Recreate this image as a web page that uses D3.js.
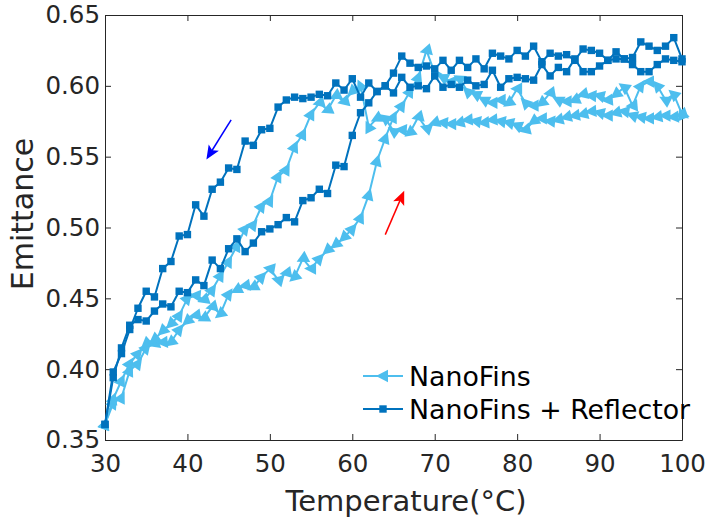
<!DOCTYPE html>
<html>
<head>
<meta charset="utf-8">
<script src="https://cdn.jsdelivr.net/npm/d3@7"></script>
<style>
    body { margin: 0; background: #fff; }
    svg { display: block; font-family: 'DejaVu Sans', sans-serif; }
</style>
</head>
<body>
<div id="chart"></div>
<script>
// 温度 (°C)
const temps = [30, 31, 32, 33, 34, 35, 36, 37, 38, 39,
    40, 41, 42, 43, 44, 45, 46, 47, 48, 49,
    50, 51, 52, 53, 54, 55, 56, 57, 58, 59,
    60, 61, 62, 63, 64, 65, 66, 67, 68, 69,
    70, 71, 72, 73, 74, 75, 76, 77, 78, 79,
    80, 81, 82, 83, 84, 85, 86, 87, 88, 89,
    90, 91, 92, 93, 94, 95, 96, 97, 98, 99,
    100];

// NanoFins 升温
const nanoFinsHeat = [0.361, 0.376, 0.380, 0.399, 0.404, 0.415, 0.418, 0.419, 0.419, 0.428,
    0.434, 0.438, 0.436, 0.444, 0.439, 0.453, 0.456, 0.459, 0.458, 0.465,
    0.471, 0.463, 0.468, 0.465, 0.478, 0.471, 0.478, 0.484, 0.488, 0.493,
    0.499, 0.507, 0.523, 0.547, 0.563, 0.578, 0.586, 0.596, 0.606, 0.625,
    0.609, 0.606, 0.603, 0.605, 0.596, 0.594, 0.590, 0.588, 0.590, 0.588,
    0.598, 0.588, 0.586, 0.588, 0.595, 0.590, 0.589, 0.590, 0.594, 0.593,
    0.593, 0.590, 0.594, 0.599, 0.586, 0.600, 0.603, 0.600, 0.590, 0.594,
    0.580];

// NanoFins 降温
const nanoFinsCool = [0.361, 0.379, 0.392, 0.404, 0.411, 0.418, 0.421, 0.427, 0.432, 0.438,
    0.450, 0.452, 0.449, 0.456, 0.466, 0.476, 0.487, 0.499, 0.502, 0.515,
    0.519, 0.536, 0.541, 0.557, 0.566, 0.580, 0.588, 0.583, 0.593, 0.589,
    0.596, 0.600, 0.571, 0.577, 0.577, 0.568, 0.569, 0.567, 0.578, 0.570,
    0.574, 0.574, 0.573, 0.574, 0.576, 0.575, 0.574, 0.576, 0.575, 0.574,
    0.572, 0.569, 0.575, 0.577, 0.575, 0.576, 0.578, 0.579, 0.580, 0.582,
    0.581, 0.579, 0.581, 0.582, 0.579, 0.578, 0.577, 0.578, 0.579, 0.578,
    0.580];

// NanoFins + Reflector 升温
const reflectorHeat = [0.361, 0.394, 0.415, 0.431, 0.435, 0.434, 0.441, 0.446, 0.444, 0.455,
    0.454, 0.463, 0.459, 0.477, 0.471, 0.485, 0.492, 0.483, 0.489, 0.497,
    0.499, 0.502, 0.507, 0.504, 0.519, 0.521, 0.527, 0.524, 0.544, 0.543,
    0.565, 0.581, 0.588, 0.596, 0.600, 0.609, 0.621, 0.616, 0.613, 0.614,
    0.612, 0.618, 0.611, 0.618, 0.613, 0.619, 0.612, 0.623, 0.621, 0.619,
    0.625, 0.621, 0.628, 0.617, 0.623, 0.621, 0.622, 0.618, 0.626, 0.625,
    0.623, 0.618, 0.624, 0.619, 0.620, 0.631, 0.628, 0.625, 0.628, 0.634,
    0.619];

// NanoFins + Reflector 降温
const reflectorCool = [0.361, 0.398, 0.411, 0.428, 0.443, 0.455, 0.451, 0.471, 0.476, 0.494,
    0.495, 0.516, 0.508, 0.527, 0.532, 0.542, 0.541, 0.561, 0.558, 0.569,
    0.570, 0.585, 0.590, 0.592, 0.591, 0.592, 0.594, 0.593, 0.602, 0.597,
    0.605, 0.592, 0.602, 0.596, 0.600, 0.595, 0.606, 0.599, 0.600, 0.598,
    0.607, 0.599, 0.601, 0.599, 0.604, 0.600, 0.601, 0.611, 0.599, 0.605,
    0.606, 0.605, 0.604, 0.615, 0.607, 0.613, 0.610, 0.619, 0.610, 0.610,
    0.614, 0.618, 0.619, 0.619, 0.615, 0.610, 0.610, 0.615, 0.619, 0.618,
    0.617];

const xTicks = [30, 40, 50, 60, 70, 80, 90, 100];
const yTicks = [0.35, 0.40, 0.45, 0.50, 0.55, 0.60, 0.65];
const legendLabels = ['NanoFins', 'NanoFins + Reflector'];

// 箭头 (起点 -> 终点, 数据坐标)
const arrowFrom = [[45.3, 0.576], [64.0, 0.495]];
const arrowTo = [[42.3, 0.548], [66.3, 0.526]];
const arrowColors = ['#0000ff', '#ff0000'];

const LIGHT = '#4DBEEE';
const DARK = '#0072BD';
const AXIS = '#262626';

const svg = d3.select('#chart')
    .append('svg')
    .attr('width', 712)
    .attr('height', 523);

const x = d3.scaleLinear().domain([30, 100]).range([105, 682]);
const y = d3.scaleLinear().domain([0.35, 0.65]).range([440, 15]);

// 坐标轴 (四边框, 刻度朝内)
function styleAxis(g) {
    g.selectAll('path, line').attr('stroke', AXIS).attr('stroke-width', 1);
    g.selectAll('text').attr('fill', AXIS).style('font-size', '24.5px')
        .style('font-family', "'DejaVu Sans', sans-serif");
}

svg.append('g')
    .attr('transform', 'translate(0,440)')
    .call(d3.axisBottom(x).tickValues(xTicks).tickSize(-6).tickSizeOuter(0).tickPadding(15))
    .call(styleAxis);

svg.append('g')
    .attr('transform', 'translate(0,15)')
    .call(d3.axisTop(x).tickValues(xTicks).tickSize(-6).tickSizeOuter(0).tickFormat(''))
    .call(styleAxis);

svg.append('g')
    .attr('transform', 'translate(105,0)')
    .call(d3.axisLeft(y).tickValues(yTicks).tickSize(-6).tickSizeOuter(0).tickPadding(5)
        .tickFormat(d3.format('.2f')))
    .call(styleAxis);

svg.append('g')
    .attr('transform', 'translate(682,0)')
    .call(d3.axisRight(y).tickValues(yTicks).tickSize(-6).tickSizeOuter(0).tickFormat(''))
    .call(styleAxis);

// 轴标题
svg.append('text')
    .attr('x', 406)
    .attr('y', 511)
    .attr('text-anchor', 'middle')
    .attr('fill', AXIS)
    .style('font-size', '29px')
    .text('Temperature(°C)');

svg.append('text')
    .attr('transform', 'translate(33,214) rotate(-90)')
    .attr('text-anchor', 'middle')
    .attr('fill', AXIS)
    .style('font-size', '30px')
    .text('Emittance');

const triPath = 'M7,0L-5,-6.2L-5,6.2Z';

// 三角形方向沿曲线: 陡处朝上, 平处朝左
function markerAngle(pts, i) {
    const a = pts[Math.max(i - 1, 0)];
    const b = pts[Math.min(i + 1, pts.length - 1)];
    let dx = b[0] - a[0], dy = b[1] - a[1];
    if (Math.abs(dy) > Math.abs(dx)) {
        if (dy > 0) { dx = -dx; dy = -dy; }
    } else if (dx > 0) {
        dx = -dx; dy = -dy;
    }
    return Math.atan2(dy, dx) * 180 / Math.PI;
}

function drawSeries(values, color, marker) {
    const pts = values.map((v, i) => [x(temps[i]), y(v)]);
    const g = svg.append('g');
    g.append('path')
        .attr('d', d3.line()(pts))
        .attr('fill', 'none')
        .attr('stroke', color)
        .attr('stroke-width', 2)
        .attr('stroke-linejoin', 'round');

    if (marker === 'tri') {
        g.selectAll('path.m')
            .data(pts)
            .enter().append('path')
            .attr('class', 'm')
            .attr('d', triPath)
            .attr('transform', (d, i) => `translate(${d[0]},${d[1]}) rotate(${markerAngle(pts, i)})`)
            .attr('fill', color);
    } else {
        g.selectAll('rect')
            .data(pts)
            .enter().append('rect')
            .attr('x', d => d[0] - 3.7)
            .attr('y', d => d[1] - 3.7)
            .attr('width', 7.4)
            .attr('height', 7.4)
            .attr('fill', color);
    }
}

drawSeries(nanoFinsHeat, LIGHT, 'tri');
drawSeries(nanoFinsCool, LIGHT, 'tri');
drawSeries(reflectorHeat, DARK, 'sq');
drawSeries(reflectorCool, DARK, 'sq');

// 箭头
arrowFrom.forEach((f, i) => {
    const x1 = x(f[0]), y1 = y(f[1]);
    const x2 = x(arrowTo[i][0]), y2 = y(arrowTo[i][1]);
    const ang = Math.atan2(y2 - y1, x2 - x1) * 180 / Math.PI;
    const len = Math.hypot(x2 - x1, y2 - y1);
    const g = svg.append('g')
        .attr('transform', `translate(${x1},${y1}) rotate(${ang})`);
    g.append('line')
        .attr('x1', 0).attr('y1', 0)
        .attr('x2', len - 10).attr('y2', 0)
        .attr('stroke', arrowColors[i])
        .attr('stroke-width', 1.5);
    g.append('path')
        .attr('d', `M${len},0L${len - 14},-6L${len - 11},0L${len - 14},6Z`)
        .attr('fill', arrowColors[i]);
});

// 图例
const legend = svg.append('g').attr('transform', 'translate(363,376)');
legendLabels.forEach((label, i) => {
    const row = legend.append('g').attr('transform', `translate(0,${i * 33})`);
    const color = i === 0 ? LIGHT : DARK;
    row.append('line')
        .attr('x1', 0).attr('x2', 40)
        .attr('stroke', color)
        .attr('stroke-width', 2);
    if (i === 0) {
        row.append('path')
            .attr('d', triPath)
            .attr('transform', 'translate(20,0) rotate(180)')
            .attr('fill', color);
    } else {
        row.append('rect')
            .attr('x', 16.3).attr('y', -3.7)
            .attr('width', 7.4).attr('height', 7.4)
            .attr('fill', color);
    }
    row.append('text')
        .attr('x', 46)
        .attr('y', 9.5)
        .attr('fill', '#000')
        .style('font-size', '26.8px')
        .text(label);
});
</script>
</body>
</html>
